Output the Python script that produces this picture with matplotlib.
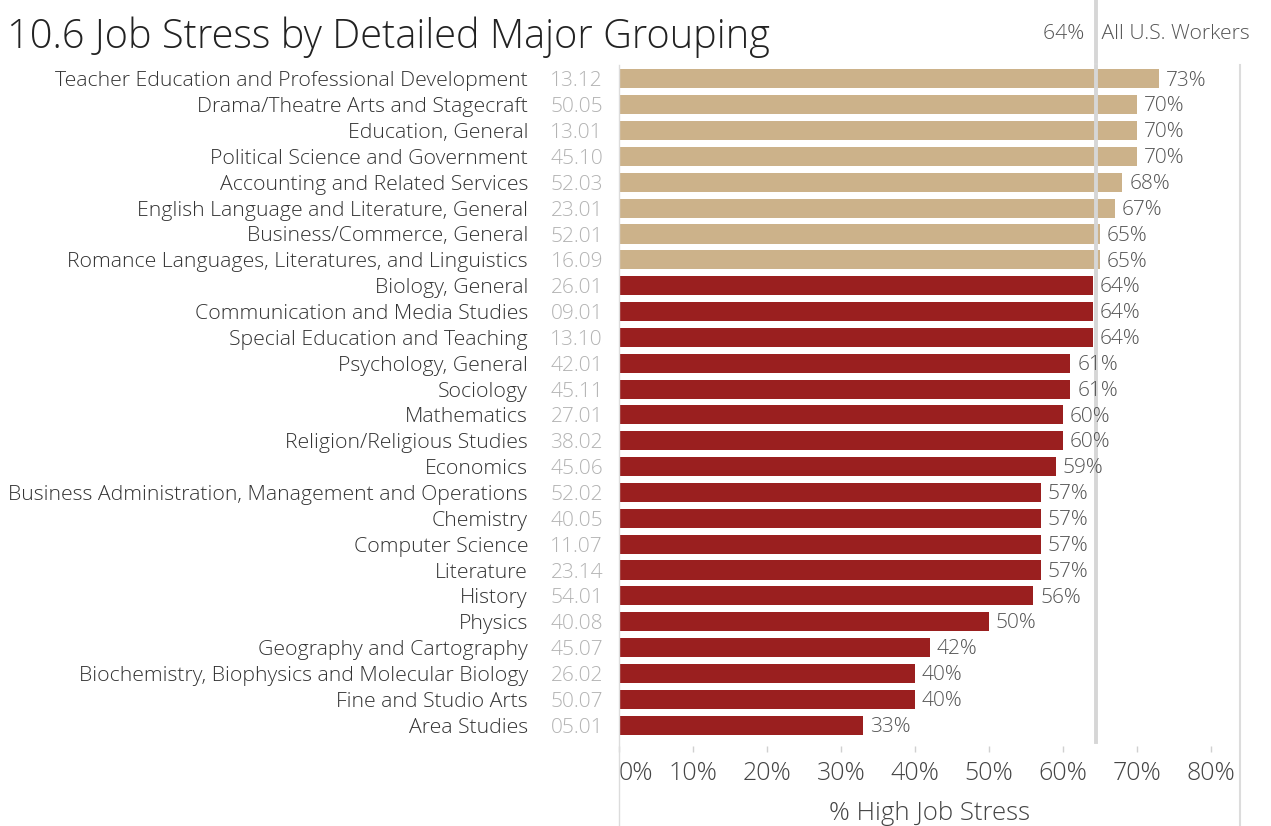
import numpy as np
import matplotlib
matplotlib.use("Agg")
import matplotlib.pyplot as plt
from matplotlib import transforms

majors = [
    "Teacher Education and Professional Development",
    "Drama/Theatre Arts and Stagecraft",
    "Education, General",
    "Political Science and Government",
    "Accounting and Related Services",
    "English Language and Literature, General",
    "Business/Commerce, General",
    "Romance Languages, Literatures, and Linguistics",
    "Biology, General",
    "Communication and Media Studies",
    "Special Education and Teaching",
    "Psychology, General",
    "Sociology",
    "Mathematics",
    "Religion/Religious Studies",
    "Economics",
    "Business Administration, Management and Operations",
    "Chemistry",
    "Computer Science",
    "Literature",
    "History",
    "Physics",
    "Geography and Cartography",
    "Biochemistry, Biophysics and Molecular Biology",
    "Fine and Studio Arts",
    "Area Studies",
]
codes = ["13.12", "50.05", "13.01", "45.10", "52.03", "23.01", "52.01", "16.09",
         "26.01", "09.01", "13.10", "42.01", "45.11", "27.01", "38.02", "45.06",
         "52.02", "40.05", "11.07", "23.14", "54.01", "40.08", "45.07", "26.02",
         "50.07", "05.01"]
stress = [73, 70, 70, 70, 68, 67, 65, 65, 64, 64, 64, 61, 61, 60, 60, 59,
          57, 57, 57, 57, 56, 50, 42, 40, 40, 33]
all_workers = 64.4
xticks = [0, 10, 20, 30, 40, 50, 60, 70, 80]
xtick_labels = [f"{t}%" for t in xticks]

TAN = "#CCB28A"
RED = "#9A1F1F"
FONT = ["Open Sans", "DejaVu Sans"]
LW = "light"

W, H = 1271, 826
fig = plt.figure(figsize=(W / 100, H / 100), dpi=100)
fx = lambda px: px / W
fy = lambda py: 1 - py / H

ax = fig.add_axes([fx(619), fy(738), fx(1240) - fx(619), fy(66) - fy(738)])
n = len(majors)
ypos = np.arange(n)
colors = [TAN if v > all_workers else RED for v in stress]
ax.barh(ypos, stress, height=0.74, color=colors, zorder=2)
ax.set_xlim(0, 621 / 7.4)
ax.set_ylim(n - 0.5, -0.5)

# reference line
ax.axvline(all_workers, ymin=-0.006, ymax=1, color="#d6d6d6", lw=2.8, zorder=3, clip_on=False)
bt = transforms.blended_transform_factory(ax.transData, fig.transFigure)
ax.plot([all_workers, all_workers], [fy(0), fy(62)], transform=bt, color="#d6d6d6",
        lw=2.8, clip_on=False)
ax.text(all_workers, fy(34), "64%  ", transform=bt, ha="right", va="center",
        fontsize=15.2, color="#555555", family=FONT, fontweight=LW)
ax.text(all_workers, fy(34), " All U.S. Workers", transform=bt, ha="left", va="center",
        fontsize=15.2, color="#555555", family=FONT, fontweight=LW)

# value labels
for yi, v in zip(ypos, stress):
    ax.annotate(f"{v}%", (v, yi), xytext=(5, -1.2), textcoords="offset points",
                ha="left", va="center", fontsize=15, color="#555555", family=FONT,
                fontweight=LW)

# left labels
lt = transforms.blended_transform_factory(fig.transFigure, ax.transData)
shift = transforms.ScaledTranslation(0, -1.8 / 72, fig.dpi_scale_trans)
for yi, name, code in zip(ypos, majors, codes):
    ax.text(fx(528), yi, name, transform=lt + shift, ha="right", va="center",
            fontsize=15.3, color="#333333", family=FONT, fontweight=LW)
    ax.text(fx(603), yi, code, transform=lt + shift, ha="right", va="center",
            fontsize=15, color="#b3b3b3", family=FONT, fontweight=LW)

# axes styling
for s in ["top", "right", "left"]:
    ax.spines[s].set_visible(False)
ax.spines["bottom"].set_position(("outward", 5.8))
ax.spines["bottom"].set_color("none")
ax.set_yticks([])
ax.set_xticks(xticks)
ax.set_xticklabels(xtick_labels, fontsize=18, color="#444444", family=FONT, fontweight=LW)
ax.tick_params(axis="x", length=4.5, width=1, color="#d0d0d0", pad=6)
ax.get_xticklabels()[0].set_ha("left")
ax.set_xlabel("% High Job Stress", fontsize=18.5, color="#444444", family=FONT,
              fontweight=LW, labelpad=11)

# pane borders
fig.add_artist(plt.Line2D([fx(619), fx(619)], [fy(65), fy(826)], transform=fig.transFigure,
                          color="#dcdcdc", lw=1))
fig.add_artist(plt.Line2D([fx(1240), fx(1240)], [fy(65), fy(826)], transform=fig.transFigure,
                          color="#dcdcdc", lw=1.5))

fig.text(fx(7), fy(37), "10.6 Job Stress by Detailed Major Grouping", ha="left", va="center",
         fontsize=28.6, color="#222222", family=FONT, fontweight="light")

fig.savefig("out.png", dpi=100)
